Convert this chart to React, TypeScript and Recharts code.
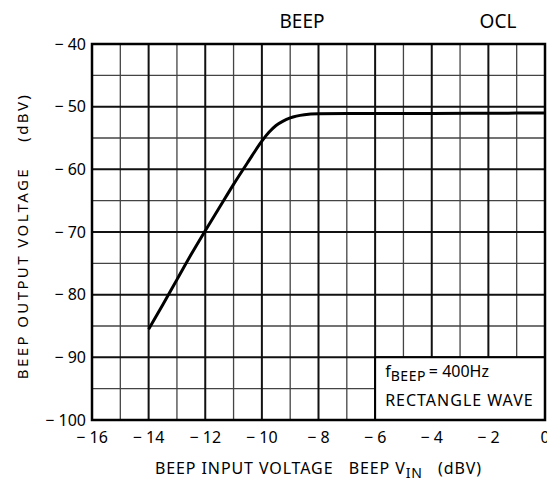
import React from "react";
import {
  LineChart,
  Line,
  XAxis,
  YAxis,
  CartesianGrid,
  ReferenceArea,
} from "recharts";

const inputVoltage = [-14, -13.5, -13, -12.5, -12, -11.5, -11, -10.5, -10, -9.75, -9.5, -9.25, -9, -8.5, -8, -7, -6, -4, -2, 0];
const outputVoltage = [-85.5, -81.6, -77.6, -73.6, -69.8, -66.1, -62.4, -58.9, -55.5, -54.1, -53.0, -52.3, -51.8, -51.3, -51.15, -51.1, -51.1, -51.1, -51.05, -51.0];

const xTicks = [-16, -14, -12, -10, -8, -6, -4, -2, 0];
const yTicks = [-100, -90, -80, -70, -60, -50, -40];
const xMinorGrid = [-15, -13, -11, -9, -7, -5, -3, -1];
const xMajorGrid = [-14, -12, -10, -8, -6, -4, -2];
const yMinorGrid = [-95, -85, -75, -65, -55, -45];
const yMajorGrid = [-90, -80, -70, -60, -50];

const data = inputVoltage.map((x, i) => ({ x, y: outputVoltage[i] }));

const FONT = "'Noto Sans', 'DejaVu Sans', sans-serif";

const fmt = (v: number) => (v === 0 ? "0" : `\u2212 ${Math.abs(v)}`);

const BoxLabel = (props: any) => {
  const vb = props.viewBox || {};
  const x = vb.x + 10;
  const y = vb.y;
  return (
    <text fontFamily={FONT} fontSize={16} fill="#000">
      <tspan x={x} y={y + 20}>f</tspan>
      <tspan fontSize={14} dy={4} letterSpacing={0.6}>BEEP</tspan>
      <tspan dy={-4}>{"\u2009= 400Hz"}</tspan>
      <tspan x={x} y={y + 49} letterSpacing={1}>RECTANGLE WAVE</tspan>
    </text>
  );
};

const XLabel = (props: any) => {
  const vb = props.viewBox || {};
  const cx = vb.x + vb.width / 2;
  return (
    <text x={cx} y={466} textAnchor="middle" fontFamily={FONT} fontSize={16} fill="#000" letterSpacing={0.9}>
      BEEP INPUT VOLTAGE{"\u00a0\u00a0\u00a0"}BEEP V
      <tspan fontSize={14} dy={4}>IN</tspan>
      <tspan dy={-4}>{"\u00a0\u00a0\u00a0"}(dBV)</tspan>
    </text>
  );
};

export default function App() {
  return (
    <LineChart
      width={547}
      height={475}
      data={data}
      margin={{ top: 36, right: 10, left: 0, bottom: 0 }}
    >
      <CartesianGrid
        horizontalValues={yMinorGrid}
        verticalValues={xMinorGrid}
        stroke="#444"
        strokeWidth={1.3}
      />
      <CartesianGrid
        horizontalValues={yMajorGrid}
        verticalValues={xMajorGrid}
        stroke="#111"
        strokeWidth={2}
      />
      <XAxis
        dataKey="x"
        type="number"
        domain={[-16, 0]}
        ticks={xTicks}
        tickFormatter={fmt}
        axisLine={false}
        tickLine={false}
        tickSize={6}
        tickMargin={6}
        height={63}
        tick={{ fill: "#000", fontSize: 16, fontFamily: FONT }}
        interval={0}
        label={<XLabel />}
      />
      <YAxis
        type="number"
        domain={[-100, -40]}
        ticks={yTicks}
        tickFormatter={fmt}
        axisLine={false}
        tickLine={false}
        tickSize={6}
        tickMargin={0}
        width={84}
        interval={0}
        tick={{ fill: "#000", fontSize: 16, fontFamily: FONT }}
      />
      <ReferenceArea
        x1={-6}
        x2={0}
        y1={-100}
        y2={-90}
        fill="#fff"
        fillOpacity={1}
        stroke="#000"
        strokeWidth={2}
        label={<BoxLabel />}
        ifOverflow="visible"
      />
      <Line
        type="monotone"
        dataKey="y"
        stroke="#000"
        strokeWidth={3}
        dot={false}
        isAnimationActive={false}
      />
      <ReferenceArea
        x1={-16}
        x2={0}
        y1={-100}
        y2={-40}
        fill="none"
        stroke="#000"
        strokeWidth={2.5}
        ifOverflow="visible"
      />
      <text x={294} y={20} textAnchor="middle" fontFamily={FONT} fontSize={19} fill="#000">
        BEEP
      </text>
      <text x={490} y={20} textAnchor="middle" fontFamily={FONT} fontSize={19} fill="#000">
        OCL
      </text>
      <text
        x={14}
        y={228}
        transform="rotate(-90 14 228)"
        textAnchor="middle"
        dominantBaseline="central"
        fontFamily={FONT}
        fontSize={15}
        fill="#000"
        letterSpacing={2.4}
      >
        BEEP OUTPUT VOLTAGE{"\u00a0\u00a0\u00a0\u00a0"}(dBV)
      </text>
    </LineChart>
  );
}
